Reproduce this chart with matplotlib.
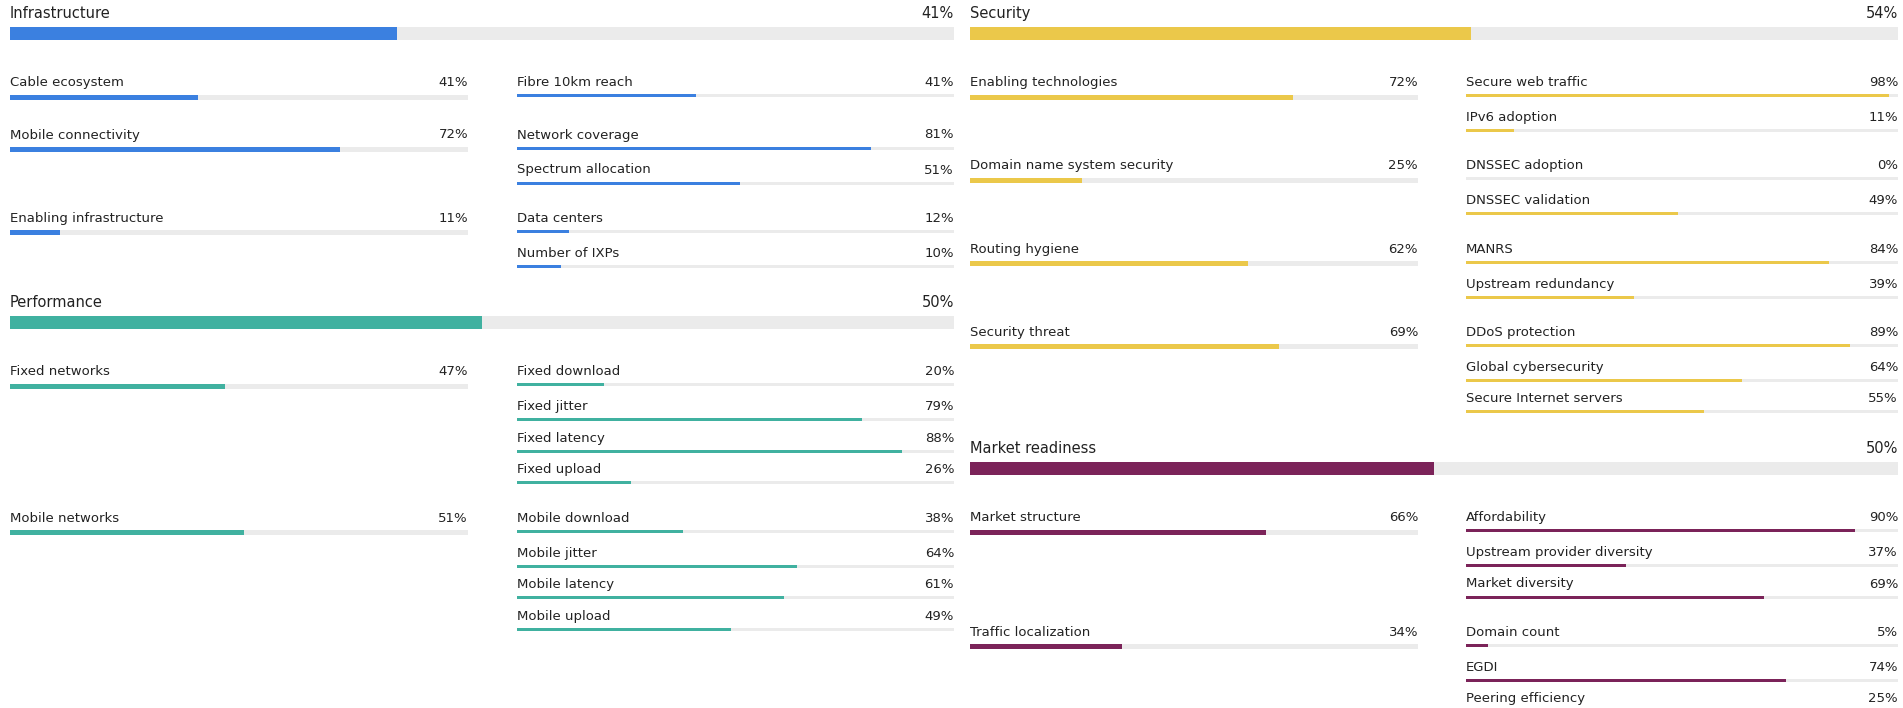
import matplotlib
matplotlib.use("Agg")
import matplotlib.pyplot as plt

# ---------------- data ----------------
sections = ["Infrastructure", "Performance", "Security", "Market readiness"]
section_values = [41, 50, 54, 50]
section_colors = ["#3B80E0", "#40B1A0", "#EBC84A", "#7B2359"]

infra_groups = ["Cable ecosystem", "Mobile connectivity", "Enabling infrastructure"]
infra_group_values = [41, 72, 11]
infra_indicators = [["Fibre 10km reach"], ["Network coverage", "Spectrum allocation"],
                    ["Data centers", "Number of IXPs"]]
infra_indicator_values = [[41], [81, 51], [12, 10]]

perf_groups = ["Fixed networks", "Mobile networks"]
perf_group_values = [47, 51]
perf_indicators = [["Fixed download", "Fixed jitter", "Fixed latency", "Fixed upload"],
                   ["Mobile download", "Mobile jitter", "Mobile latency", "Mobile upload"]]
perf_indicator_values = [[20, 79, 88, 26], [38, 64, 61, 49]]

sec_groups = ["Enabling technologies", "Domain name system security", "Routing hygiene", "Security threat"]
sec_group_values = [72, 25, 62, 69]
sec_indicators = [["Secure web traffic", "IPv6 adoption"], ["DNSSEC adoption", "DNSSEC validation"],
                  ["MANRS", "Upstream redundancy"],
                  ["DDoS protection", "Global cybersecurity", "Secure Internet servers"]]
sec_indicator_values = [[98, 11], [0, 49], [84, 39], [89, 64, 55]]

mkt_groups = ["Market structure", "Traffic localization"]
mkt_group_values = [66, 34]
mkt_indicators = [["Affordability", "Upstream provider diversity", "Market diversity"],
                  ["Domain count", "EGDI", "Peering efficiency"]]
mkt_indicator_values = [[90, 37, 69], [5, 74, 25]]

# ---------------- layout / style ----------------
W, H = 1903, 708
TRACK = "#EBEBEB"
TXT = "#222222"
TEXT_SHIFT = 1.5
fig = plt.figure(figsize=(W / 100, H / 100), dpi=100)


def bar(x0, x1, yc, h, value, color):
    ax = fig.add_axes([x0 / W, 1 - (yc + h / 2) / H, (x1 - x0) / W, h / H])
    ax.barh([0], [100], height=1, color=TRACK, linewidth=0)
    ax.barh([0], [value], height=1, color=color, linewidth=0)
    ax.set_xlim(0, 100)
    ax.set_ylim(-0.5, 0.5)
    ax.axis("off")


def text(x, y, s, size, ha="left"):
    fig.text(x / W, 1 - (y + TEXT_SHIFT) / H, s, fontsize=size, ha=ha, va="center",
             color=TXT, family="DejaVu Sans")


def section(y, cols, name, value, color, groups, gvals, inds, ivals):
    (mx0, mx1), (gx0, gx1), (ix0, ix1) = cols
    text(mx0, y, name, 10.5)
    text(mx1, y, f"{value}%", 10.5, ha="right")
    bar(mx0, mx1, y + 21, 13, value, color)
    cur = y + 69
    last = cur
    for g, gv, ind, iv in zip(groups, gvals, inds, ivals):
        text(gx0, cur, g, 9.5)
        text(gx1, cur, f"{gv}%", 9.5, ha="right")
        bar(gx0, gx1, cur + 16, 5, gv, color)
        yy = cur
        for k, (n, v) in enumerate(zip(ind, iv)):
            if k == 1:
                yy += 35
            elif k > 1:
                yy += 31.5
            text(ix0, yy, n, 9.5)
            text(ix1, yy, f"{v}%", 9.5, ha="right")
            bar(ix0, ix1, yy + 14.5, 3, v, color)
        last = yy
        cur = yy + (48.3 if len(ind) > 1 else 52.5)
    return last + 49.6


left_cols = ((10, 954), (10, 468), (517, 954))
right_cols = ((970, 1898), (970, 1418), (1466, 1898))

y = section(12, left_cols, sections[0], section_values[0], section_colors[0],
            infra_groups, infra_group_values, infra_indicators, infra_indicator_values)
section(y, left_cols, sections[1], section_values[1], section_colors[1],
        perf_groups, perf_group_values, perf_indicators, perf_indicator_values)
y = section(12, right_cols, sections[2], section_values[2], section_colors[2],
            sec_groups, sec_group_values, sec_indicators, sec_indicator_values)
section(y, right_cols, sections[3], section_values[3], section_colors[3],
        mkt_groups, mkt_group_values, mkt_indicators, mkt_indicator_values)

fig.savefig("out.png", dpi=100, facecolor="white")
